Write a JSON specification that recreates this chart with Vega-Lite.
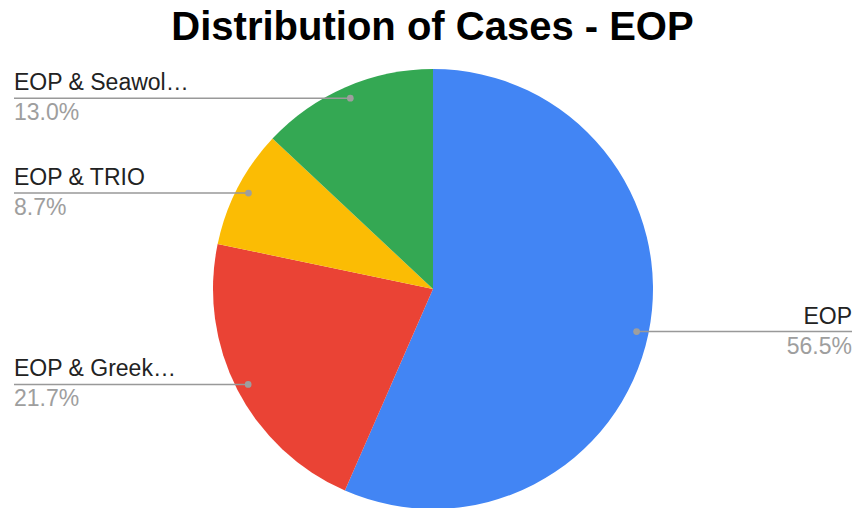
{
  "$schema": "https://vega.github.io/schema/vega-lite/v6.json",
  "width": 855,
  "height": 508,
  "autosize": {"type": "none"},
  "padding": 0,
  "background": "white",
  "title": {
    "text": "Distribution of Cases - EOP",
    "font": "Liberation Sans",
    "fontSize": 40,
    "fontWeight": "bold",
    "color": "#000000",
    "anchor": "middle",
    "offset": -48,
    "dx": 5
  },
  "config": {"view": {"stroke": null}},
  "data": {
    "values": [
      {"idx": 1, "category": "EOP", "share": 0.565},
      {"idx": 2, "category": "EOP & Greek…", "share": 0.217},
      {"idx": 3, "category": "EOP & TRIO", "share": 0.087},
      {"idx": 4, "category": "EOP & Seawol…", "share": 0.130}
    ]
  },
  "transform": [
    {"window": [{"op": "sum", "field": "share", "as": "cum"}], "sort": [{"field": "idx"}], "frame": [null, 0]},
    {"joinaggregate": [{"op": "sum", "field": "share", "as": "total"}]},
    {"calculate": "2 * PI * (datum.cum - datum.share / 2) / datum.total", "as": "mid"},
    {"calculate": "208 * sin(datum.mid)", "as": "px"},
    {"calculate": "208 * cos(datum.mid)", "as": "py"},
    {"calculate": "datum.px > 0 ? 419 : -419", "as": "edge"}
  ],
  "layer": [
    {
      "mark": {"type": "arc", "outerRadius": 220},
      "encoding": {
        "theta": {"field": "share", "type": "quantitative", "stack": true},
        "order": {"field": "idx", "type": "quantitative"},
        "color": {
          "field": "category",
          "type": "nominal",
          "scale": {
            "domain": ["EOP", "EOP & Greek…", "EOP & TRIO", "EOP & Seawol…"],
            "range": ["#4285F4", "#EA4335", "#FBBC04", "#34A853"]
          },
          "legend": null
        },
        "x": {"datum": 0, "type": "quantitative", "scale": {"domain": [-433, 422], "nice": false, "zero": false}, "axis": null},
        "y": {"datum": 0, "type": "quantitative", "scale": {"domain": [-219, 289], "nice": false, "zero": false}, "axis": null}
      }
    },
    {
      "mark": {"type": "rule", "color": "#999999", "strokeWidth": 1.5},
      "encoding": {
        "x": {"field": "px", "type": "quantitative", "axis": null},
        "x2": {"field": "edge"},
        "y": {"field": "py", "type": "quantitative", "axis": null}
      }
    },
    {
      "mark": {"type": "circle", "size": 45, "color": "#9E9E9E", "opacity": 1},
      "encoding": {
        "x": {"field": "px", "type": "quantitative", "axis": null},
        "y": {"field": "py", "type": "quantitative", "axis": null}
      }
    },
    {
      "transform": [{"filter": "datum.px > 0"}],
      "layer": [
        {
          "mark": {"type": "text", "align": "right", "baseline": "alphabetic", "dy": -8, "font": "Liberation Sans", "fontSize": 23, "color": "#222222"},
          "encoding": {
            "x": {"field": "edge", "type": "quantitative", "axis": null},
            "y": {"field": "py", "type": "quantitative", "axis": null},
            "text": {"field": "category", "type": "nominal"}
          }
        },
        {
          "mark": {"type": "text", "align": "right", "baseline": "alphabetic", "dy": 22, "font": "Liberation Sans", "fontSize": 23, "color": "#9E9E9E"},
          "encoding": {
            "x": {"field": "edge", "type": "quantitative", "axis": null},
            "y": {"field": "py", "type": "quantitative", "axis": null},
            "text": {"field": "share", "type": "quantitative", "format": ".1%"}
          }
        }
      ]
    },
    {
      "transform": [{"filter": "datum.px <= 0"}],
      "layer": [
        {
          "mark": {"type": "text", "align": "left", "baseline": "alphabetic", "dy": -8, "font": "Liberation Sans", "fontSize": 23, "color": "#222222"},
          "encoding": {
            "x": {"field": "edge", "type": "quantitative", "axis": null},
            "y": {"field": "py", "type": "quantitative", "axis": null},
            "text": {"field": "category", "type": "nominal"}
          }
        },
        {
          "mark": {"type": "text", "align": "left", "baseline": "alphabetic", "dy": 22, "font": "Liberation Sans", "fontSize": 23, "color": "#9E9E9E"},
          "encoding": {
            "x": {"field": "edge", "type": "quantitative", "axis": null},
            "y": {"field": "py", "type": "quantitative", "axis": null},
            "text": {"field": "share", "type": "quantitative", "format": ".1%"}
          }
        }
      ]
    }
  ]
}
